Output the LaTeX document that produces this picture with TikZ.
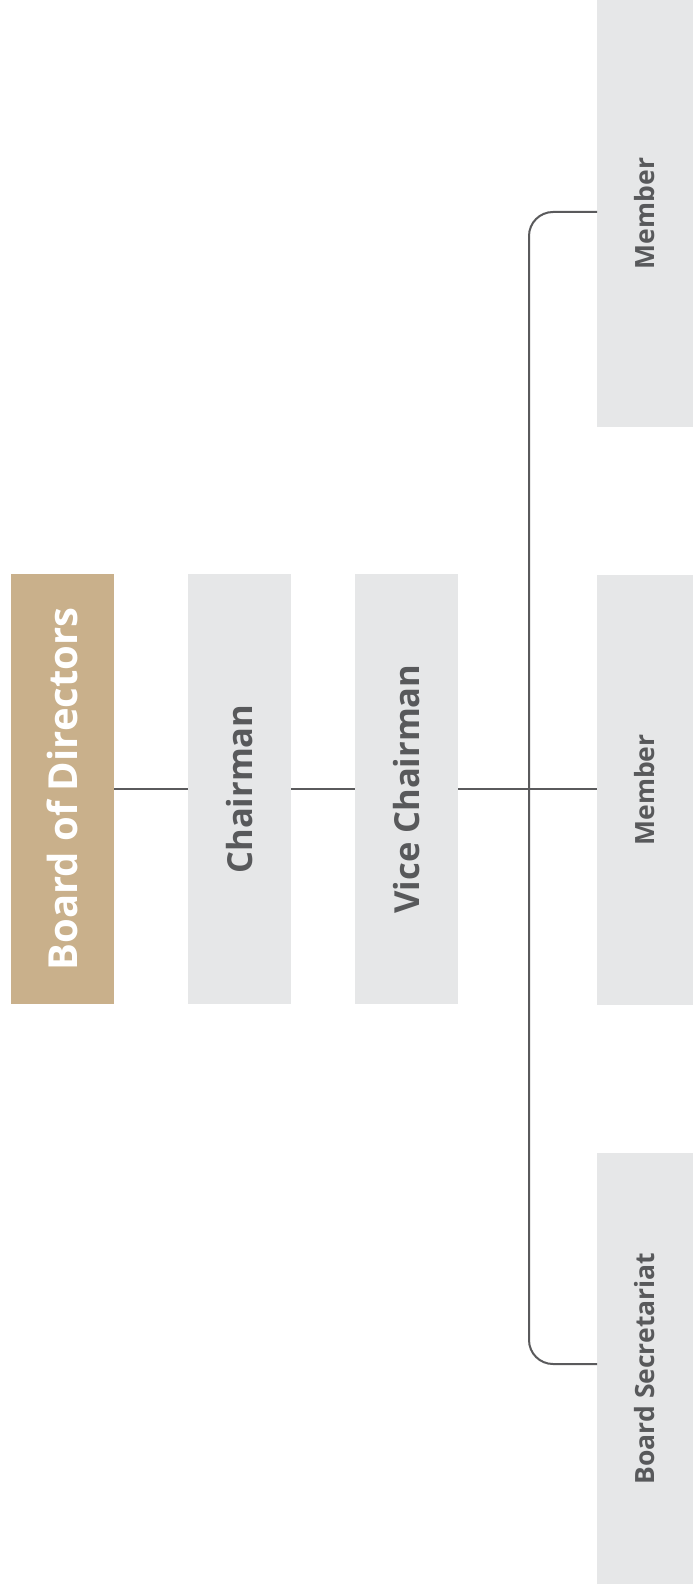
\documentclass[tikz,border=0pt]{standalone}
\usepackage{fontspec}
\newfontfamily\labfont{Open Sans}
\definecolor{gold}{HTML}{C9B08B}
\definecolor{boxgray}{HTML}{E6E7E8}
\definecolor{ink}{HTML}{58595B}
\definecolor{wire}{HTML}{5A5A5C}
\begin{document}
\begin{tikzpicture}[x=1pt,y=-1pt,
  unit/.style={rectangle, inner sep=0pt, outer sep=0pt, minimum width=103pt, minimum height=430pt},
  topunit/.style={unit, fill=gold, text=white, font=\labfont\bfseries\fontsize{40}{40}\selectfont},
  midunit/.style={unit, fill=boxgray, text=ink, font=\labfont\bfseries\fontsize{34.5}{34.5}\selectfont},
  subunit/.style={rectangle, inner sep=0pt, outer sep=0pt, minimum width=96pt, fill=boxgray, text=ink, font=\labfont\bfseries\fontsize{26.5}{26.5}\selectfont},
  conn/.style={draw=wire, line width=2pt}]
  \useasboundingbox (0,0) rectangle (693,1594);
  \fill[white] (0,0) rectangle (693,1594);

  % leadership column
  \node[topunit] (bod) at (62.5,789) {\rotatebox{90}{Board of Directors}};
  \node[midunit] (chair) at (239.5,789) {\rotatebox{90}{Chairman}};
  \node[midunit] (vice) at (406.5,789) {\rotatebox{90}{Vice Chairman}};

  % board bodies
  \node[subunit, minimum height=427pt] (m1) at (645,213.5) {\rotatebox{90}{Member}};
  \node[subunit, minimum height=430pt] (m2) at (645,790) {\rotatebox{90}{Member}};
  \node[subunit, minimum height=431pt] (sec) at (645,1368.5) {\rotatebox{90}{Board Secretariat}};

  % connectors
  \draw[conn] (bod.east) -- (chair.west);
  \draw[conn] (chair.west -| chair.east) -- (vice.west);
  \draw[conn] (vice.east) -- (vice.east -| m2.west);
  \draw[conn, rounded corners=24pt] ([yshift=1.5pt]m1.west) -- ++(-68,0) |- ([yshift=4.5pt]sec.west);
\end{tikzpicture}
\end{document}
